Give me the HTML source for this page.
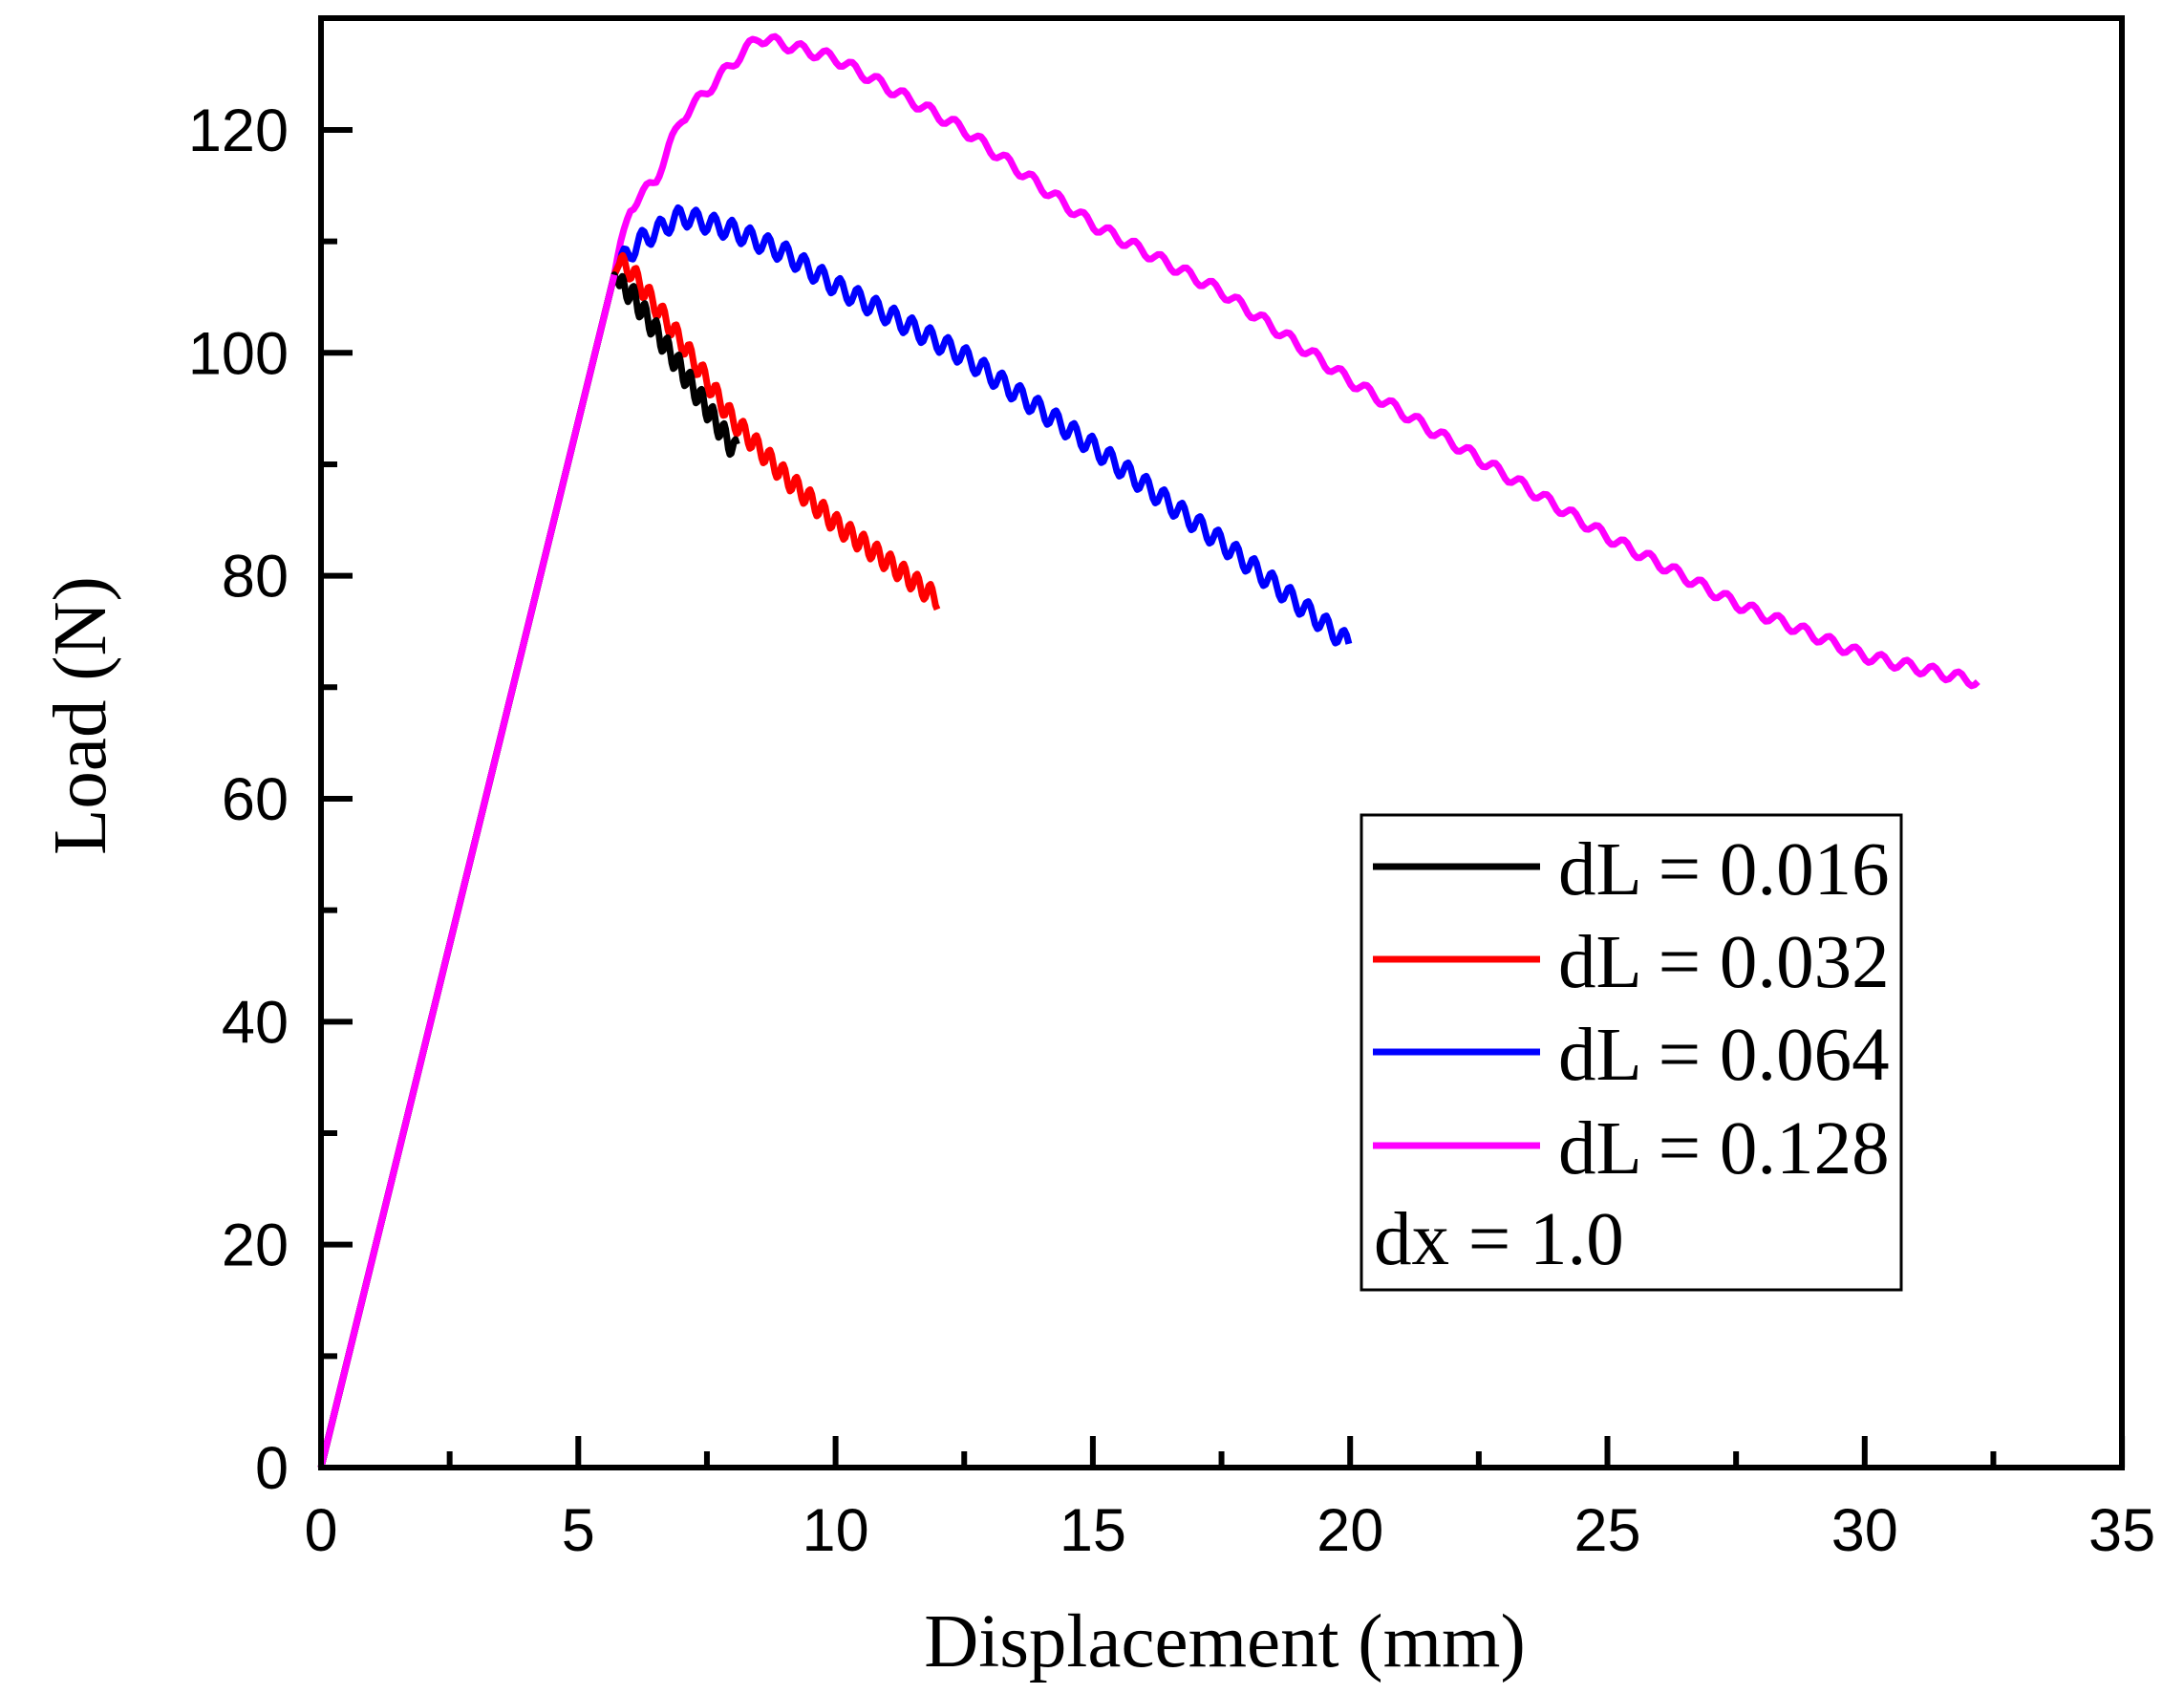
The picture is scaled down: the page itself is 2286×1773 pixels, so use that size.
<!DOCTYPE html>
<html><head><meta charset="utf-8"><style>html,body{margin:0;padding:0;background:#fff}svg{display:block}</style></head>
<body>
<svg id="s" width="2286" height="1773" viewBox="0 0 2286 1773" xmlns="http://www.w3.org/2000/svg">
<rect width="2286" height="1773" fill="#fff"/>
<g id="series" fill="none" stroke-width="7" stroke-linejoin="round"></g>
<g id="axes" stroke="#000" stroke-width="6" fill="none"></g>
<g font-family="Liberation Sans, Arial, sans-serif" font-size="63" fill="#000" id="tl"></g>
<text x="1282" y="1744" font-family="Liberation Serif, serif" font-size="79" text-anchor="middle">Displacement (mm)</text>
<text transform="translate(110,749) rotate(-90)" font-family="Liberation Serif, serif" font-size="79" text-anchor="middle">Load (N)</text>
<rect x="1425" y="853" width="565" height="497" fill="#fff" stroke="#000" stroke-width="3"/>
<g stroke-width="7">
<line x1="1437" y1="907" x2="1612" y2="907" stroke="#000"/>
<line x1="1437" y1="1004" x2="1612" y2="1004" stroke="#f00"/>
<line x1="1437" y1="1101" x2="1612" y2="1101" stroke="#00f"/>
<line x1="1437" y1="1199" x2="1612" y2="1199" stroke="#f0f"/>
</g>
<g font-family="Liberation Serif, serif" font-size="79" fill="#000">
<text x="1631" y="936">dL = 0.016</text>
<text x="1631" y="1033">dL = 0.032</text>
<text x="1631" y="1130">dL = 0.064</text>
<text x="1631" y="1228">dL = 0.128</text>
<text x="1438" y="1323">dx = 1.0</text>
</g>
</svg>
<script>
var X0=336,XS=53.86,Y0=1536,YS=11.667;
function px(x){return X0+x*XS}function py(y){return Y0-y*YS}
var ax=document.getElementById('axes'),tl=document.getElementById('tl'),NS='http://www.w3.org/2000/svg';
function el(p,tag,a){var e=document.createElementNS(NS,tag);for(var k in a)e.setAttribute(k,a[k]);p.appendChild(e);return e}
el(ax,'rect',{x:X0,y:19,width:2221-X0,height:Y0-19});
for(var i=0;i<=14;i++){var x=px(i*2.5),L=i%2?17:33;el(ax,'line',{x1:x,y1:Y0,x2:x,y2:Y0-L});
 if(i%2==0){var t=el(tl,'text',{x:x,y:1623,'text-anchor':'middle'});t.textContent=i*2.5;}}
for(var j=0;j<=12;j++){var y=py(j*10),L=j%2?17:33;el(ax,'line',{x1:X0,y1:y,x2:X0+L,y2:y});
 if(j%2==0){var t=el(tl,'text',{x:302,y:y+22,'text-anchor':'end'});t.textContent=j*10;}}
function interp(pts,x){for(var i=1;i<pts.length;i++){if(x<=pts[i][0]){var a=pts[i-1],b=pts[i];return a[1]+(b[1]-a[1])*(x-a[0])/(b[0]-a[0]);}}return pts[pts.length-1][1]}
function series(col,pts,x1,per,amp){
 var d='M'+px(0)+','+py(0)+' L'+px(5.7)+','+py(107);
 var xs=pts[0][0];
 for(var x=xs;x<=x1;x+=per/8){var ph=((x-xs)/per)%1;var w=amp*Math.sin(ph*2*Math.PI);d+=' L'+px(x).toFixed(1)+','+py(interp(pts,x)+w).toFixed(1);}
 el(document.getElementById('series'),'path',{d:d,stroke:col});
}
series('#f0f',[[5.7,107],[6,113],[6.5,115.5],[7,121],[7.5,123.5],[8,126],[8.5,128.3],[10,126.4],[12.5,120],[15,111.5],[17.5,105.5],[20,97.5],[22.5,90.5],[25,83.5],[27.5,77.5],[30,72.8],[32.2,70.5]],32.2,0.5,0.5);
series('#00f',[[5.8,108],[6.2,110],[7,112.3],[8,111],[9,109],[10,106],[12.5,99.7],[15,91.6],[17.5,83],[20,73.8]],20,0.35,0.9);
series('#f00',[[5.8,108],[6,107.5],[7,101],[8,94],[9,89],[10,84.7],[11,81.3],[12,77.8]],12,0.26,0.9);
series('#000',[[5.8,106],[6,105.5],[7,98.5],[8,91.5],[8.1,91]],8.1,0.22,1.0);
el(document.getElementById('series'),'path',{d:'M'+px(0)+','+py(0)+' L'+px(5.7)+','+py(107),stroke:'#f0f'});
</script>
</body></html>
